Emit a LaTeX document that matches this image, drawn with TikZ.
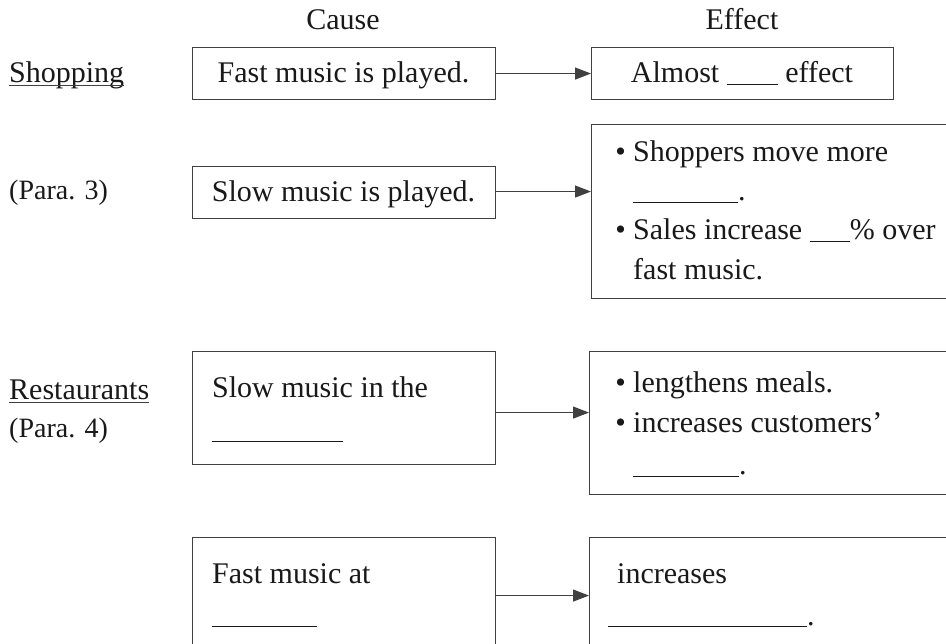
\documentclass[tikz,border=0pt]{standalone}
\usepackage{fontspec}
\setmainfont{Liberation Serif}
\usetikzlibrary{arrows.meta}
\newcommand{\blankline}[1]{\rule[-2pt]{#1pt}{1.1pt}}
\begin{document}
\begin{tikzpicture}[x=1pt,y=-1pt,
  box/.style={draw=black!75,line width=1.1pt,inner sep=0,anchor=north west},
  txt/.style={inner sep=0,anchor=base west,text=black!90,font=\fontsize{30}{36}\selectfont},
  ctxt/.style={txt,anchor=base},
  side/.style={txt,font=\fontsize{28}{34}\selectfont},
  bul/.style={txt,anchor=base east},
  conn/.style={draw=black!75,line width=1.1pt,-{Triangle[length=16pt,width=12pt]}},
  uline/.style={draw=black!75,line width=1pt}
]
\useasboundingbox (0,0) rectangle (946,644);
\clip (0,0) rectangle (946,644);
\fill[white] (0,0) rectangle (946,644);

% headings
\node[ctxt] (cause) at (343,30) {Cause};
\node[ctxt] (effect) at (742,30) {Effect};

% side labels
\node[txt] (shop) at (9,83) {Shopping};
\draw[uline] ([yshift=-3pt]shop.base west) -- ([yshift=-3pt]shop.base east);
\node[side] (para3) at (9,200) {(Para. 3)};
\node[txt] (rest) at (9,400) {Restaurants};
\draw[uline] ([yshift=-3pt]rest.base west) -- ([yshift=-3pt]rest.base east);
\node[side] (para4) at (9,438) {(Para. 4)};

% boxes
\node[box,minimum width=303pt,minimum height=52pt] (c1) at (192,47) {};
\node[box,minimum width=302pt,minimum height=52pt] (e1) at (591,47) {};
\node[box,minimum width=303pt,minimum height=52pt] (c2) at (192,166) {};
\node[box,minimum width=420pt,minimum height=174pt] (e2) at (591,124) {};
\node[box,minimum width=303pt,minimum height=113pt] (c3) at (192,351) {};
\node[box,minimum width=420pt,minimum height=143pt] (e3) at (589,351) {};
\node[box,minimum width=303pt,minimum height=150pt] (c4) at (192,537) {};
\node[box,minimum width=420pt,minimum height=150pt] (e4) at (589,537) {};

% connectors
\draw[conn] (c1.east) -- (e1.west);
\draw[conn] ([yshift=1pt]c2.east) -- ([yshift=1pt]c2.east -| e2.west);
\draw[conn] ([yshift=-4.5pt]c3.east) -- ([yshift=-4.5pt]c3.east -| e3.west);
\draw[conn] ([yshift=17pt]c4.east) -- ([yshift=17pt]c4.east -| e4.west);

% texts in boxes
\node[ctxt] (t1) at (343.5,83) {Fast music is played.};
\node[ctxt] (t2) at (742,83) {Almost \blankline{51} effect};
\node[ctxt] (t3) at (343.5,202) {Slow music is played.};

\node[bul] (b1) at (626,162) {\textbullet};
\node[txt] (t4) at (633,162) {Shoppers move more};
\node[txt] (t5) at (633,201) {\blankline{105}.};
\node[bul] (b2) at (626,240) {\textbullet};
\node[txt] (t6) at (633,240) {Sales increase \blankline{40}\% over};
\node[txt] (t7) at (633,280) {fast music.};

\node[txt] (t8) at (212,398) {Slow music in the};
\node[txt] (t9) at (212,440) {\blankline{131}};

\node[bul] (b3) at (626,393) {\textbullet};
\node[txt] (t10) at (633,393) {lengthens meals.};
\node[bul] (b4) at (626,432) {\textbullet};
\node[txt] (t11) at (633,432) {increases customers’};
\node[txt] (t12) at (633,475) {\blankline{106}.};

\node[txt] (t13) at (212,583) {Fast music at};
\node[txt] (t14) at (212,625) {\blankline{105}};

\node[txt] (t15) at (617,583) {increases};
\node[txt] (t16) at (608,625) {\blankline{199}.};
\end{tikzpicture}
\end{document}
